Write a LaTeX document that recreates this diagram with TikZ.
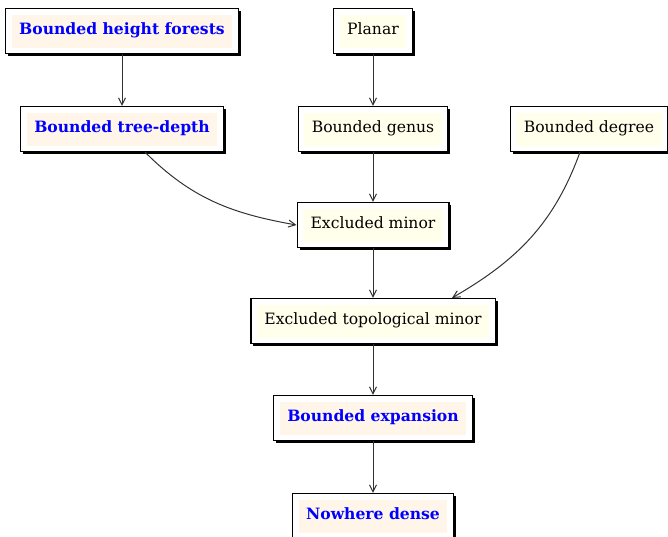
\documentclass[tikz,border=0pt]{standalone}
\usepackage{fontspec}
\setmainfont{DejaVu Serif}
\usetikzlibrary{shadows,arrows.meta}
\definecolor{yelfill}{RGB}{255,255,235}
\definecolor{orafill}{RGB}{255,245,233}
\definecolor{linegray}{RGB}{50,50,50}
\newcommand{\myy}[1]{{\fboxsep=7.5pt\colorbox{yelfill}{\strut #1}}}
\newcommand{\myo}[1]{{\fboxsep=7.5pt\colorbox{orafill}{\strut\bfseries\color{blue}#1}}}
\tikzset{
  boxbase/.style={draw=black, line width=1.2pt, fill=white, inner sep=6pt,
    font=\fontsize{15.6}{18}\selectfont,
    drop shadow={opacity=1, shadow xshift=2.5pt, shadow yshift=-2.5pt, fill=black}},
  arr/.style={draw=linegray, line width=1pt, -{Straight Barb[length=7pt,width=7pt]}},
}
\begin{document}
\begin{tikzpicture}[x=1pt,y=1pt]
\useasboundingbox (0,0) rectangle (668,-536);
\node[boxbase] (bhf) at (122,-31) {\myo{Bounded height forests}};
\node[boxbase] (pl) at (373,-31) {\myy{Planar}};
\node[boxbase] (btd) at (122,-129) {\myo{Bounded tree-depth}};
\node[boxbase] (bg) at (373,-129) {\myy{Bounded genus}};
\node[boxbase] (bd) at (589,-129) {\myy{Bounded degree}};
\node[boxbase] (em) at (373,-225) {\myy{Excluded minor}};
\node[boxbase] (etm) at (373,-321) {\myy{Excluded topological minor}};
\node[boxbase] (be) at (373,-418) {\myo{Bounded expansion}};
\node[boxbase] (nd) at (373,-516) {\myo{Nowhere dense}};
\draw[arr] (bhf) -- (btd);
\draw[arr] (pl) -- (bg);
\draw[arr] (bg) -- (em);
\draw[arr] (em) -- (etm);
\draw[arr] (etm) -- (be);
\draw[arr] (be) -- (nd);
\draw[arr] ([xshift=23pt]btd.south) to[out=-45,in=170] (em.west);
\draw[arr] ([xshift=-9pt]bd.south) to[out=-110,in=30] ([xshift=79pt]etm.north);
\end{tikzpicture}
\end{document}
